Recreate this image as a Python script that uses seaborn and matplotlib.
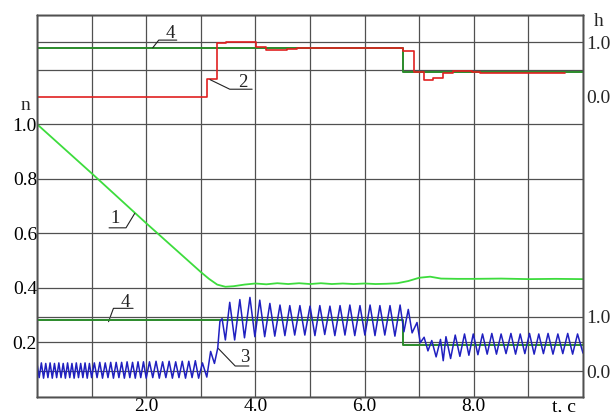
import matplotlib
matplotlib.use("Agg")
import matplotlib.pyplot as plt
import seaborn as sns
import pandas as pd

# ---------------- data ----------------
# curve 1 : speed n (left axis)
n_t = [0.0, 1.0, 2.0, 3.0, 3.15, 3.3, 3.45, 3.6, 3.8, 4.0, 4.2, 4.4, 4.6, 4.8, 5.0,
       5.2, 5.4, 5.6, 5.8, 6.0, 6.2, 6.4, 6.6, 6.8, 7.0, 7.2, 7.4, 7.7, 8.0, 8.5, 9.0, 9.5, 10.0]
n_val = [1.0, 0.82, 0.637, 0.458, 0.433, 0.412, 0.404, 0.406, 0.412, 0.416, 0.413, 0.417,
         0.414, 0.417, 0.414, 0.417, 0.414, 0.416, 0.414, 0.416, 0.414, 0.415, 0.417, 0.425,
         0.437, 0.441, 0.434, 0.433, 0.433, 0.434, 0.432, 0.433, 0.432]

# curve 2 : h (upper right axis), stepwise
h2_t = [0.0, 3.12, 3.30, 3.47, 4.02, 4.20, 4.57, 4.76, 6.70, 6.91, 7.08, 7.25, 7.43,
        7.61, 7.96, 8.11, 8.60, 9.67]
h2_v = [0.0, 0.33, 0.98, 1.0, 0.915, 0.86, 0.87, 0.895, 0.84, 0.46, 0.31, 0.34, 0.43,
        0.48, 0.45, 0.43, 0.44, 0.44]

# curve 4 : reference level, upper and lower
h4_t = [0.0, 6.70, 10.0]
h4_up = [0.90, 0.46, 0.46]
h4_lo = [0.93, 0.47, 0.47]

# curve 3 : h (lower right axis), oscillating - extrema
h3_t = [0.00, 0.04, 0.08, 0.12, 0.16, 0.20, 0.24, 0.28, 0.32, 0.36, 0.40, 0.44, 0.48,
        0.52, 0.56, 0.60, 0.64, 0.68, 0.72, 0.76, 0.80, 0.84, 0.88, 0.92, 0.96, 1.00,
        1.05, 1.10, 1.15, 1.20, 1.25, 1.30, 1.35, 1.40, 1.45, 1.50, 1.55, 1.60, 1.65,
        1.70, 1.75, 1.80, 1.85, 1.90, 1.95, 2.00,
        2.06, 2.12, 2.18, 2.24, 2.30, 2.36, 2.42, 2.48, 2.54, 2.60, 2.66, 2.72, 2.78,
        2.84, 2.90, 2.96, 3.03, 3.11,
        3.18, 3.25, 3.31, 3.35, 3.39, 3.45, 3.53, 3.62, 3.715, 3.80, 3.90, 3.99, 4.08,
        4.17, 4.265, 4.355, 4.45, 4.54, 4.63, 4.72, 4.815, 4.905, 5.00, 5.09, 5.18, 5.27,
        5.365, 5.455, 5.55, 5.64, 5.73, 5.82, 5.915, 6.005, 6.10, 6.19, 6.28, 6.37,
        6.465, 6.555, 6.65, 6.72, 6.80, 6.87, 6.96, 7.02, 7.09, 7.16, 7.23, 7.31, 7.39,
        7.44, 7.49, 7.575, 7.66, 7.745, 7.83, 7.91, 7.99, 8.075, 8.16, 8.245, 8.33,
        8.415, 8.50, 8.59, 8.68, 8.765, 8.85, 8.935, 9.02, 9.105, 9.19, 9.275, 9.36,
        9.45, 9.54, 9.63, 9.72, 9.81, 9.90, 10.0]
h3_v = [0.14, -0.12, 0.15, -0.13, 0.14, -0.12, 0.15, -0.13, 0.14, -0.12, 0.15, -0.12, 0.14,
        -0.13, 0.15, -0.12, 0.14, -0.13, 0.15, -0.12, 0.14, -0.12, 0.15, -0.13, 0.14, -0.12,
        0.15, -0.12, 0.16, -0.13, 0.15, -0.12, 0.16, -0.13, 0.16, -0.12, 0.16, -0.13, 0.17,
        -0.12, 0.16, -0.13, 0.17, -0.12, 0.17, -0.13,
        0.17, -0.12, 0.18, -0.13, 0.17, -0.12, 0.18, -0.13, 0.17, -0.12, 0.18, -0.13, 0.18,
        -0.12, 0.19, -0.13, 0.15, -0.11,
        0.36, 0.14, 0.42, 0.91, 0.96, 0.57, 1.26, 0.57, 1.31, 0.61, 1.35, 0.63, 1.30,
        0.63, 1.24, 0.64, 1.21, 0.65, 1.20, 0.66, 1.20, 0.66, 1.19, 0.65, 1.20, 0.67,
        1.19, 0.65, 1.20, 0.66, 1.21, 0.65, 1.20, 0.66, 1.21, 0.65, 1.20, 0.66,
        1.20, 0.64, 1.21, 0.72, 1.13, 0.70, 0.89, 0.52, 0.62, 0.37, 0.56, 0.26, 0.58,
        0.19, 0.63, 0.23, 0.66, 0.27, 0.68, 0.29, 0.68, 0.30, 0.68, 0.31, 0.69,
        0.31, 0.68, 0.32, 0.69, 0.31, 0.68, 0.32, 0.69, 0.31, 0.68, 0.32, 0.69,
        0.31, 0.68, 0.32, 0.69, 0.31, 0.68, 0.33]

x_ticks = [0, 1, 2, 3, 4, 5, 6, 7, 8, 9, 10]
x_labels = ["", "", "2.0", "", "4.0", "", "6.0", "", "8.0", "", ""]
n_ticks = [0.0, 0.2, 0.4, 0.6, 0.8, 1.0, 1.2, 1.4]
n_labels = ["", "0.2", "0.4", "0.6", "0.8", "1.0", "", ""]
h_ticks = [0.0, 1.0]
h_labels = ["0.0", "1.0"]

# ---------------- style ----------------
sns.set_style("white")
plt.rcParams["font.family"] = ["Liberation Serif", "DejaVu Serif"]

GRID = "#505050"
C1 = "#3ddc3d"
C2 = "#e02020"
C3 = "#2020c0"
C4 = "#2a8a2a"
FS = 14

fig = plt.figure(figsize=(6.14, 4.12), dpi=100)
fig.patch.set_facecolor("white")
ax = fig.add_axes([37 / 614, 15 / 412, 546 / 614, 382 / 412])
ax.set_xlim(0, 10)
ax.set_ylim(0, 1.4)

# twin axes for the two h scales (h=0 -> n=1.1, h=1 -> n=1.3 ; h=0 -> n=0.095, h=1 -> n=0.295)
ax_up = ax.twinx()
ax_lo = ax.twinx()

# curves
sns.lineplot(x=n_t, y=n_val, ax=ax, color=C1, linewidth=1.3, estimator=None, sort=False)
sns.lineplot(x=h4_t, y=h4_up, ax=ax_up, color=C4, linewidth=1.4, estimator=None,
             sort=False, drawstyle="steps-post")
sns.lineplot(x=h2_t, y=h2_v, ax=ax_up, color=C2, linewidth=1.2, estimator=None,
             sort=False, drawstyle="steps-post")
sns.lineplot(x=h4_t, y=h4_lo, ax=ax_lo, color=C4, linewidth=1.4, estimator=None,
             sort=False, drawstyle="steps-post")
sns.lineplot(x=h3_t, y=h3_v, ax=ax_lo, color=C3, linewidth=1.1, estimator=None, sort=False)

for a in (ax, ax_up, ax_lo):
    a.set_xlim(0, 10)
    a.set_xlabel("")
    a.set_ylabel("")
ax.set_ylim(0, 1.4)
ax_up.set_ylim(-5.5, 1.5)
ax_lo.set_ylim(-0.475, 6.525)

# grid and frame
ax.set_xticks(x_ticks, x_labels)
ax.set_xticks([9.66], ["t, c"], minor=True)
ax.set_yticks(n_ticks, n_labels)
ax.grid(True, which="major", color=GRID, linewidth=0.9)
ax.tick_params(axis="both", which="both", length=0, labelsize=FS, colors="black")
ax.tick_params(axis="x", which="both", pad=1)
ax.tick_params(axis="y", pad=0)
for a in (ax, ax_up, ax_lo):
    for s in a.spines.values():
        s.set_color(GRID)
        s.set_linewidth(1.0)

ax_up.set_yticks(h_ticks, h_labels)
ax_up.tick_params(axis="y", length=0, labelsize=FS, pad=2)
ax_up.axhline(1.0, color=GRID, linewidth=0.9, zorder=0)
ax_lo.set_yticks(h_ticks, h_labels)
ax_lo.tick_params(axis="y", length=0, labelsize=FS, pad=2)
ax_lo.yaxis.grid(True, color=GRID, linewidth=0.9)
ax_lo.set_axisbelow(True)

# curve number labels with leader lines (in n units on the main axis)
leaders = [
    ("4", [(2.12, 1.28), (2.23, 1.308), (2.56, 1.308)], (2.45, 1.314)),
    ("2", [(3.17, 1.163), (3.53, 1.128), (3.94, 1.128)], (3.77, 1.135)),
    ("1", [(1.79, 0.673), (1.63, 0.620), (1.32, 0.620)], (1.43, 0.637)),
    ("4", [(1.31, 0.276), (1.40, 0.325), (1.76, 0.325)], (1.61, 0.331)),
    ("3", [(3.32, 0.178), (3.63, 0.1136), (3.88, 0.1136)], (3.81, 0.129)),
]
for txt, pts, tp in leaders:
    xs = [p[0] for p in pts]
    ys = [p[1] for p in pts]
    ax_up.plot(xs, [(y - 1.1) / 0.2 for y in ys], color="#222222", linewidth=0.8)
    ax.text(tp[0], tp[1], txt, fontsize=13.5, ha="center", va="baseline", color="#222222",
            zorder=10)

# axis names
ax.text(-0.22, 1.07, "n", fontsize=FS, ha="center", va="center", clip_on=False)
ax.text(10.29, 1.375, "h", fontsize=FS, ha="center", va="center", clip_on=False)

fig.savefig("out.png", dpi=100, facecolor="white")
